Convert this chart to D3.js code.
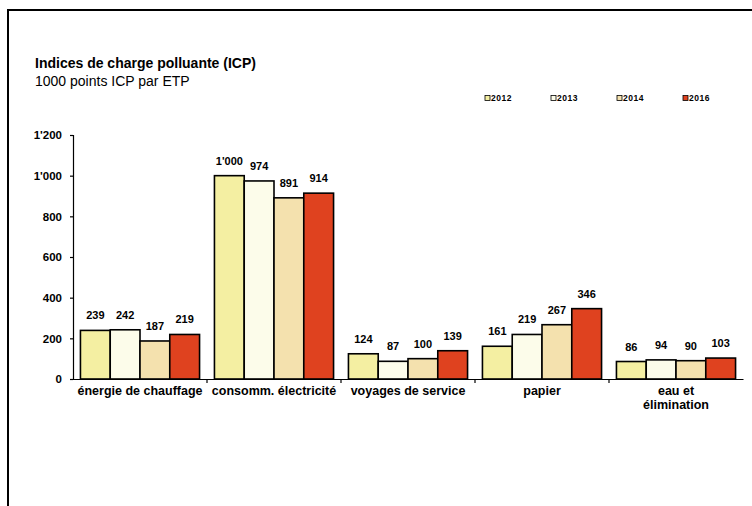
<!DOCTYPE html>
<html>
<head>
<meta charset="utf-8">
<script src="https://cdn.jsdelivr.net/npm/d3@7"></script>
<style>
  html, body { margin: 0; background: #fff; overflow: hidden; }
  svg { display: block; }
  svg text { font-family: "Liberation Sans", Arial, sans-serif; }
</style>
</head>
<body>
<script>
"use strict";

const categories = ["énergie de chauffage", "consomm. électricité", "voyages de service", "papier", "eau et\nélimination"];
const years = ["2012", "2013", "2014", "2016"];
const values2012 = [239, 1000, 124, 161, 86];
const values2013 = [242, 974, 87, 219, 94];
const values2014 = [187, 891, 100, 267, 90];
const values2016 = [219, 914, 139, 346, 103];
const yTicks = [0, 200, 400, 600, 800, 1000, 1200];
const colors = ["#f4efa2", "#fcfcea", "#f4e1ae", "#df421f"];

const series = [values2012, values2013, values2014, values2016];
const W = 752, H = 506;
const plot = {left: 73, right: 743, top: 135, bottom: 379};

const svg = d3.select("body").append("svg")
  .attr("width", W).attr("height", H);

// frame
svg.append("path")
  .attr("d", `M8,${H} V10 H${W}`)
  .attr("fill", "none").attr("stroke", "#000").attr("stroke-width", 2);

svg.append("text").attr("x", 35).attr("y", 68)
  .attr("font-size", 14).attr("font-weight", "bold").text("Indices de charge polluante (ICP)");
svg.append("text").attr("x", 35).attr("y", 86)
  .attr("font-size", 14).text("1000 points ICP par ETP");

const x = d3.scaleBand().domain(categories).range([plot.left, plot.right]);
const xs = d3.scaleBand().domain(years).range([0, x.bandwidth()]).paddingOuter(0.25);
const y = d3.scaleLinear().domain([0, 1200]).range([plot.bottom, plot.top]);

const fmt = v => d3.format(",")(v).replace(/,/g, "'");

// bars
const groups = svg.append("g").selectAll("g")
  .data(categories)
  .join("g")
  .attr("transform", d => `translate(${x(d)},0)`);

const cells = (d, i) => years.map((yr, j) => ({yr, j, v: series[j][i]}));

groups.selectAll("rect")
  .data(cells)
  .join("rect")
  .attr("x", d => xs(d.yr))
  .attr("y", d => y(d.v))
  .attr("width", xs.bandwidth())
  .attr("height", d => y(0) - y(d.v))
  .attr("fill", d => colors[d.j])
  .attr("stroke", "#000").attr("stroke-width", 1.6);

groups.selectAll("text.val")
  .data(cells)
  .join("text").attr("class", "val")
  .attr("x", d => xs(d.yr) + xs.bandwidth() / 2)
  .attr("y", d => y(d.v) - 11)
  .attr("text-anchor", "middle")
  .attr("font-size", 11).attr("font-weight", "bold")
  .text(d => fmt(d.v));

// y axis
const yAxis = svg.append("g")
  .attr("transform", `translate(${plot.left},0)`)
  .call(d3.axisLeft(y).tickValues(yTicks).tickSize(3).tickPadding(8).tickFormat(fmt));
yAxis.selectAll("text").attr("font-size", 11.5).attr("font-weight", "bold")
  .attr("font-family", "Liberation Sans, Arial, sans-serif").attr("fill", "#000");
yAxis.selectAll("line, path").attr("stroke", "#000").attr("stroke-width", 1.2);

// x axis
const xAxis = svg.append("g")
  .attr("transform", `translate(0,${plot.bottom})`)
  .call(d3.axisBottom(x).tickValues([]).tickSizeOuter(0));
xAxis.select("path").attr("stroke", "#000").attr("stroke-width", 1.2);
xAxis.selectAll("line.sep")
  .data(categories.slice(1))
  .join("line").attr("class", "sep")
  .attr("x1", d => x(d)).attr("x2", d => x(d))
  .attr("y1", 0).attr("y2", 4)
  .attr("stroke", "#000").attr("stroke-width", 1.2);

svg.append("g").selectAll("text")
  .data(categories)
  .join("text")
  .attr("text-anchor", "middle")
  .attr("font-size", 12.5).attr("font-weight", "bold")
  .attr("transform", d => `translate(${x(d) + x.bandwidth() / 2},${plot.bottom + 16})`)
  .selectAll("tspan")
  .data(d => d.split("\n"))
  .join("tspan")
  .attr("x", 0)
  .attr("dy", (d, i) => i ? 14 : 0)
  .text(d => d);

// legend
const legend = svg.append("g").selectAll("g")
  .data(years)
  .join("g")
  .attr("transform", (d, i) => `translate(${485 + i * 66},98)`);
legend.append("rect")
  .attr("x", 0).attr("y", -2.5).attr("width", 5).attr("height", 5)
  .attr("fill", (d, i) => colors[i]).attr("stroke", "#000").attr("stroke-width", 0.8);
legend.append("text")
  .attr("x", 6).attr("y", 3)
  .attr("font-size", 8.5).attr("font-weight", "bold").attr("letter-spacing", 0.5)
  .text(d => d);
</script>
</body>
</html>
